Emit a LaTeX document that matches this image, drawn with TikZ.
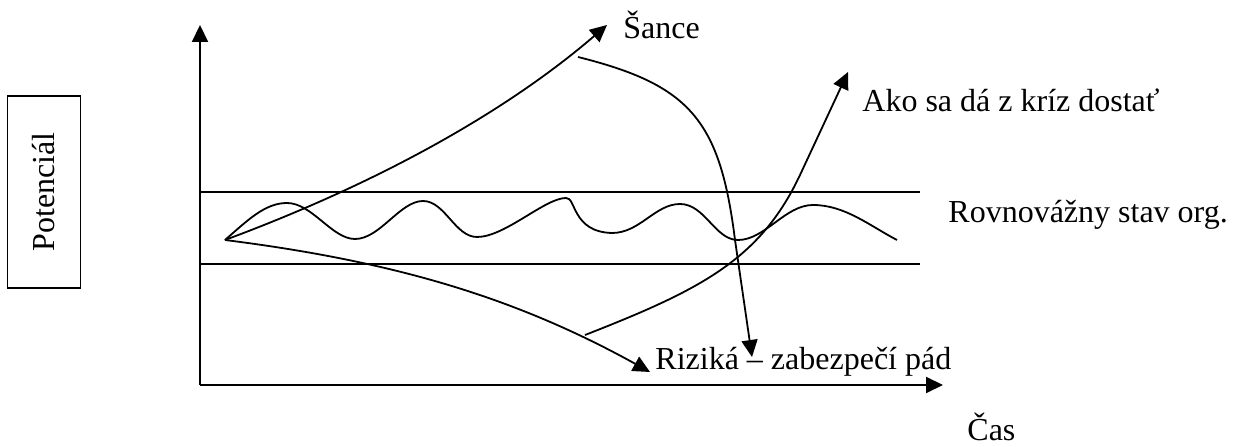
\documentclass[tikz,border=0pt]{standalone}
\usepackage{fontspec}
\setmainfont{Liberation Serif}
\usetikzlibrary{arrows.meta}
\tikzset{
  axis/.style={-{Triangle[length=8.5bp,width=8bp]}, line width=1bp},
  band/.style={line width=.6bp},
  curve/.style={line width=.9bp},
  arr/.style={curve, -{Triangle[length=8.5bp,width=8bp]}},
  lbl/.style={anchor=base west, inner sep=0pt, font=\fontsize{16bp}{19bp}\selectfont},
  potbox/.style={draw, line width=.7bp, rotate=90, minimum width=96bp,
    minimum height=36.5bp, inner sep=0pt, font=\fontsize{16bp}{19bp}\selectfont}
}

\begin{document}
\begin{tikzpicture}[x=.5bp, y=-.5bp]
  \useasboundingbox (0,0) rectangle (1234,447);

  \node[potbox] (pot) at (44,192) {Potenciál};

  \coordinate (orig) at (200,385);
  \coordinate (ytop) at (200,25);
  \coordinate (xend) at (943,385);
  \coordinate (start) at (225,240);
  \coordinate (sanceTip) at (607,25);
  \coordinate (fallStart) at (578,57);
  \coordinate (fallTip) at (752,357);
  \coordinate (riskTip) at (650,372);
  \coordinate (crisisStart) at (585,335);
  \coordinate (crisisTip) at (848,72);

  % axes and the band
  \draw[axis] (orig) -- (ytop);
  \draw[axis] (orig) -- (xend);
  \draw[band] (200,192) coordinate (bandTL) -- (920,192) coordinate (bandTR);
  \draw[band] (200,264) coordinate (bandBL) -- (920,264) coordinate (bandBR);

  % equilibrium wave
  \draw[curve] (start) .. controls (248,220) and (265,203) .. (287,203)
    .. controls (312,203) and (332,239) .. (355,239)
    .. controls (380,239) and (400,201) .. (423,201)
    .. controls (445,201) and (455,237) .. (477,237)
    .. controls (505,237) and (545,198) .. (566,198)
    .. controls (576,197) and (572,232) .. (612,233)
    .. controls (640,233) and (655,204) .. (680,204)
    .. controls (705,204) and (715,240) .. (738,240)
    .. controls (765,240) and (785,205) .. (813,205)
    .. controls (845,205) and (870,226) .. (897,240);

  % chances, risks and ways out
  \draw[arr] (start) .. controls (400,175) and (520,100) .. (sanceTip);
  \draw[arr] (start) .. controls (400,262) and (520,300) .. (riskTip);
  \draw[arr] (fallStart) .. controls (690,85) and (720,120) .. (735,240) -- (fallTip);
  \draw[arr] (crisisStart) .. controls (700,290) and (760,260) .. (800,175) -- (crisisTip);

  \node[lbl] (sance) at (623,39) {Šance};
  \node[lbl] (ako) at (862,112) {Ako sa dá z kríz dostať};
  \node[lbl] (rovno) at (948,223) {Rovnovážny stav org.};
  \node[lbl] (riziko) at (655,370) {Riziká – zabezpečí pád};
  \node[lbl] (cas) at (967,440) {Čas};
\end{tikzpicture}
\end{document}
